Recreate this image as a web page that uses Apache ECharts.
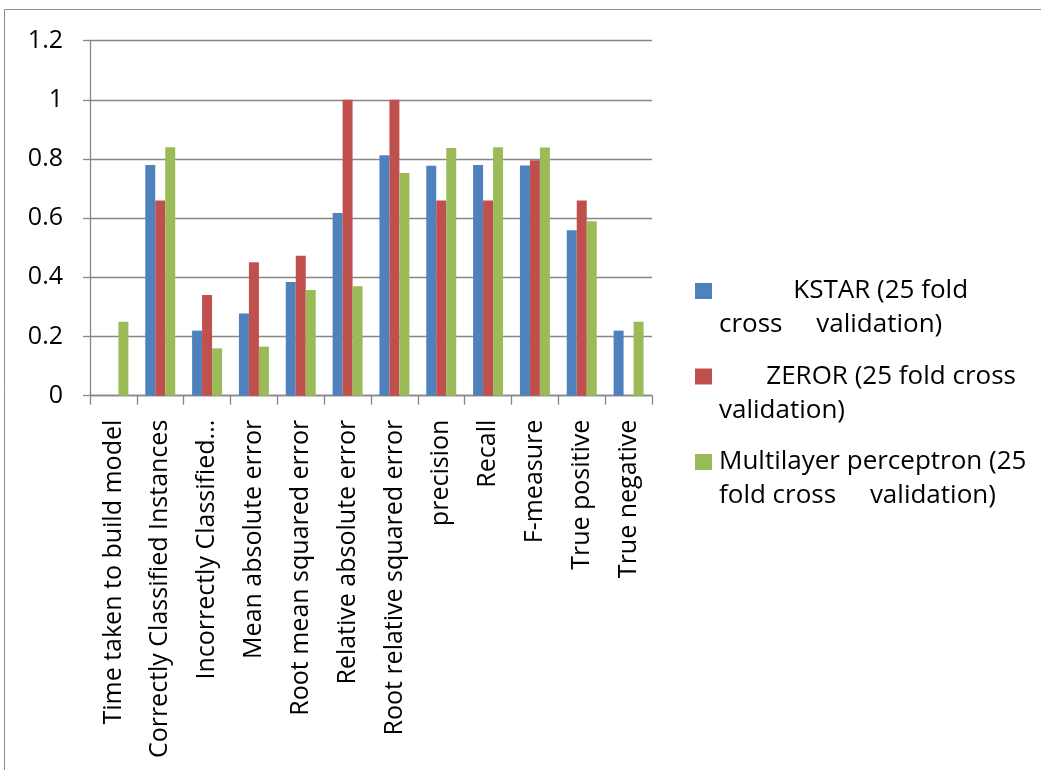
<!DOCTYPE html>
<html>
<head>
<meta charset="utf-8">
<script src="https://cdn.jsdelivr.net/npm/echarts@6/dist/echarts.min.js"></script>
<style>
  html, body { margin: 0; padding: 0; background: #fff; }
  #chart { width: 1041px; height: 770px; }
</style>
</head>
<body>
<div id="chart"></div>
<script>
// Evaluation metrics per classifier
const categories = [
  'Time taken to build model',
  'Correctly Classified Instances',
  'Incorrectly Classified...',
  'Mean absolute error',
  'Root mean squared error',
  'Relative absolute error',
  'Root relative squared error',
  'precision',
  'Recall',
  'F-measure',
  'True positive',
  'True negative'
];
const kstar      = [0, 0.78, 0.22, 0.278, 0.384, 0.618, 0.813, 0.777, 0.78, 0.778, 0.559, 0.22];
const zeror      = [0, 0.66, 0.34, 0.451, 0.473, 1.0, 1.0, 0.66, 0.66, 0.796, 0.66, 0];
const multilayer = [0.25, 0.84, 0.16, 0.166, 0.357, 0.37, 0.753, 0.837, 0.84, 0.839, 0.59, 0.25];
const yTicks = [0, 0.2, 0.4, 0.6, 0.8, 1, 1.2];

const seriesNames = ['KSTAR', 'ZEROR', 'Multilayer'];
// Leading blank line keeps the swatch level with the first text line
const legendText = {
  KSTAR: '\n           KSTAR (25 fold\ncross     validation)',
  ZEROR: '\n       ZEROR (25 fold cross\nvalidation)',
  Multilayer: '\nMultilayer perceptron (25\nfold cross     validation)'
};
const colors = ['#4F81BD', '#C0504D', '#9BBB59'];
const FONT = 'Open Sans';
const axisGray = '#878787';

const chart = echarts.init(document.getElementById('chart'));
chart.setOption({
  animation: false,
  color: colors,
  textStyle: { fontFamily: FONT },
  graphic: [{
    type: 'rect',
    shape: { x: 4.5, y: 9.5, width: 1100, height: 820 },
    style: { fill: 'none', stroke: '#8c8c8c', lineWidth: 1 },
    silent: true
  }],
  grid: { left: 90, right: 389, top: 40.7, bottom: 374.3, containLabel: false },
  legend: {
    orient: 'vertical',
    left: 690,
    top: 235,
    itemWidth: 17,
    itemHeight: 16,
    itemGap: -16.5,
    icon: 'rect',
    formatter: name => legendText[name],
    textStyle: { fontFamily: FONT, fontSize: 26, color: '#000', lineHeight: 34, padding: [0, 0, 0, 2] },
    data: seriesNames
  },
  xAxis: {
    type: 'category',
    data: categories,
    axisLine: { lineStyle: { color: axisGray, width: 1.3 } },
    axisTick: { show: true, length: 9, lineStyle: { color: axisGray, width: 1.3 } },
    axisLabel: {
      rotate: 90, interval: 0, margin: 24,
      fontFamily: FONT, fontSize: 25, color: '#000'
    },
    splitLine: { show: false }
  },
  yAxis: {
    type: 'value',
    min: 0, max: 1.2, interval: 0.2,
    axisLine: { show: true, lineStyle: { color: axisGray, width: 1.3 } },
    axisTick: { show: true, length: 7, lineStyle: { color: axisGray, width: 1.3 } },
    axisLabel: {
      margin: 27, fontFamily: FONT, fontSize: 25, color: '#000',
      formatter: v => {
        const t = yTicks.find(x => Math.abs(x - v) < 1e-9);
        return String(t !== undefined ? t : v);
      }
    },
    splitLine: { lineStyle: { color: axisGray, width: 1.3 } }
  },
  series: [
    { name: 'KSTAR', type: 'bar', data: kstar, barGap: '0%', barCategoryGap: '36%' },
    { name: 'ZEROR', type: 'bar', data: zeror, barGap: '0%', barCategoryGap: '36%' },
    { name: 'Multilayer', type: 'bar', data: multilayer, barGap: '0%', barCategoryGap: '36%' }
  ]
});
</script>
</body>
</html>
